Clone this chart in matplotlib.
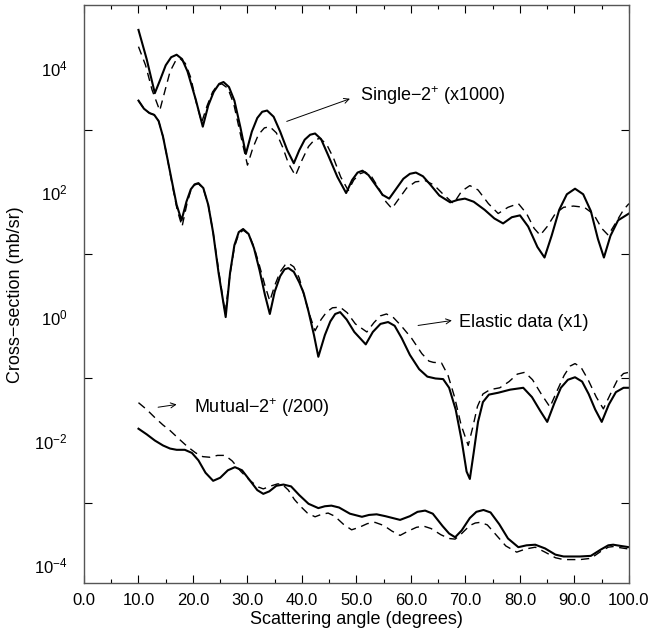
import numpy as np
import matplotlib
matplotlib.use("Agg")
import matplotlib.pyplot as plt
from matplotlib.ticker import FixedLocator, FixedFormatter

plt.rcParams["font.family"] = ["Liberation Sans", "DejaVu Sans"]
plt.rcParams["mathtext.fontset"] = "custom"
plt.rcParams["mathtext.rm"] = "Liberation Sans"
plt.rcParams["mathtext.it"] = "Liberation Sans:italic"

# ---------------------------------------------------------------
# Data: angle (deg) and log10 of cross-section
# ---------------------------------------------------------------
single_calc_x = [10, 11.5, 13.0, 14.0, 15.0, 16.0, 17.0, 18.0, 19.0, 20.5, 21.8,
                 22.8, 23.8, 24.8, 25.6, 26.6, 27.6, 28.7, 29.7, 30.8, 31.8, 32.7,
                 33.6, 34.8, 36.0, 37.3, 38.5, 39.5, 40.5, 41.5, 42.4, 43.5, 44.8,
                 46.5, 48.1, 49.2, 50.2, 51.1, 52.2, 53.5, 54.8, 56.0, 57.3, 58.6,
                 59.8, 60.9, 62.2, 63.6, 65.2, 67.2, 68.6, 69.9, 71.5, 73.5, 75.3,
                 76.9, 78.5, 80.0, 81.5, 83.2, 84.5, 85.8, 87.2, 88.6, 90.1, 91.6,
                 93.0, 94.3, 95.4, 96.6, 98.0, 100]
single_calc_log = [4.62, 4.15, 3.60, 3.82, 4.05, 4.18, 4.22, 4.15, 3.95, 3.50, 3.06,
                   3.40, 3.62, 3.75, 3.78, 3.70, 3.48, 3.05, 2.62, 2.98, 3.20, 3.30,
                   3.32, 3.22, 2.98, 2.68, 2.47, 2.68, 2.85, 2.93, 2.95, 2.86, 2.60,
                   2.25, 1.99, 2.20, 2.32, 2.35, 2.28, 2.12, 1.96, 1.90, 2.06, 2.22,
                   2.30, 2.32, 2.26, 2.12, 1.95, 1.84, 1.88, 1.90, 1.85, 1.72, 1.58,
                   1.50, 1.60, 1.63, 1.45, 1.12, 0.95, 1.30, 1.72, 1.97, 2.06, 1.97,
                   1.70, 1.25, 0.95, 1.30, 1.55, 1.66]

single_alt_x = [10, 11.3, 12.5, 13.9, 14.8, 15.8, 16.8, 17.6, 18.6, 19.6, 20.6, 21.6,
                22.6, 23.6, 24.5, 25.3, 26.4, 27.5, 28.8, 30.0, 31.0, 32.0, 33.1,
                34.1, 35.3, 36.5, 37.5, 38.8, 40.0, 41.2, 42.3, 43.3, 44.5, 45.8,
                47.1, 48.5, 49.5, 50.6, 51.6, 52.8, 54.2, 55.4, 56.5, 57.8, 59.2,
                60.8, 62.6, 64.2, 65.8, 67.8, 69.3, 70.8, 72.3, 74.2, 76.0, 77.8,
                79.7, 81.2, 82.6, 83.7, 85.0, 86.5, 88.0, 89.8, 91.8, 93.5, 95.0,
                96.2, 97.5, 99.0, 100]
single_alt_log = [4.35, 4.05, 3.65, 3.32, 3.62, 3.95, 4.12, 4.16, 4.08, 3.85, 3.45,
                  3.13, 3.40, 3.62, 3.73, 3.75, 3.68, 3.42, 2.90, 2.44, 2.72, 2.93,
                  3.04, 3.06, 2.96, 2.72, 2.47, 2.27, 2.52, 2.74, 2.85, 2.87, 2.78,
                  2.55, 2.25, 2.03, 2.20, 2.30, 2.33, 2.25, 2.05, 1.85, 1.74, 1.90,
                  2.07, 2.17, 2.19, 2.12, 1.98, 1.82, 2.02, 2.11, 2.04, 1.82, 1.66,
                  1.76, 1.82, 1.66, 1.42, 1.31, 1.45, 1.66, 1.76, 1.78, 1.76, 1.65,
                  1.42, 1.31, 1.50, 1.72, 1.82]

elastic_calc_x = [10, 11.0, 12.0, 12.9, 13.7, 14.5, 15.3, 16.2, 17.0, 17.9, 18.8,
                  19.6, 20.3, 21.0, 21.9, 22.8, 23.7, 24.7, 26.0, 26.8, 27.6, 28.4,
                  29.2, 30.2, 31.2, 32.2, 33.2, 34.1, 35.0, 36.0, 36.8, 37.5, 38.5,
                  39.5, 40.3, 41.2, 42.2, 43.0, 44.2, 45.2, 46.1, 47.0, 48.2, 49.6,
                  51.7, 53.0, 54.4, 55.8, 57.0, 58.3, 59.8, 61.5, 63.0, 64.5, 65.9,
                  67.0, 68.2, 69.3, 70.2, 70.8, 71.5, 72.3, 73.2, 74.3, 76.0, 78.2,
                  80.6, 82.2, 83.7, 85.0, 86.3, 87.5, 88.8, 90.1, 91.4, 92.6, 93.8,
                  95.0, 96.3, 97.6, 99.0, 100]
elastic_calc_log = [3.48, 3.35, 3.28, 3.25, 3.15, 2.90, 2.55, 2.15, 1.80, 1.55, 1.85,
                    2.05, 2.13, 2.15, 2.07, 1.80, 1.35, 0.70, -0.01, 0.70, 1.15, 1.36,
                    1.41, 1.33, 1.10, 0.75, 0.35, 0.04, 0.40, 0.65, 0.76, 0.78, 0.72,
                    0.55, 0.38, 0.08, -0.30, -0.65, -0.30, -0.08, 0.04, 0.07, -0.05,
                    -0.25, -0.45, -0.25, -0.12, -0.09, -0.15, -0.35, -0.62, -0.85,
                    -0.97, -1.00, -1.01, -1.15, -1.50, -2.00, -2.50, -2.62, -2.20,
                    -1.70, -1.38, -1.26, -1.23, -1.18, -1.15, -1.30, -1.52, -1.70,
                    -1.40, -1.15, -1.02, -0.98, -1.05, -1.25, -1.50, -1.70, -1.42,
                    -1.22, -1.15, -1.15]

elastic_alt_x = [10, 11.0, 12.0, 12.9, 13.7, 14.5, 15.3, 16.2, 17.1, 18.0, 18.9,
                 19.6, 20.3, 21.0, 21.9, 22.8, 23.7, 24.7, 25.9, 26.8, 27.6, 28.4,
                 29.2, 30.2, 31.2, 32.2, 33.2, 34.1, 35.0, 36.0, 36.9, 37.5, 38.5,
                 39.5, 40.5, 41.5, 42.4, 43.5, 44.5, 45.6, 47.0, 48.3, 49.8, 51.9,
                 53.2, 54.4, 55.5, 56.8, 58.2, 60.1, 62.0, 63.3, 64.1, 65.6, 66.8,
                 68.0, 69.2, 70.5, 71.3, 72.2, 73.2, 74.5, 76.3, 78.0, 79.5, 80.9,
                 82.3, 83.9, 85.5, 86.8, 88.1, 89.2, 90.1, 91.2, 92.5, 94.0, 95.3,
                 96.6, 97.9, 99.0, 100]
elastic_alt_log = [3.48, 3.35, 3.28, 3.25, 3.15, 2.90, 2.55, 2.12, 1.72, 1.45, 1.82,
                   2.03, 2.12, 2.14, 2.06, 1.80, 1.35, 0.75, 0.05, 0.68, 1.12, 1.33,
                   1.39, 1.33, 1.12, 0.82, 0.50, 0.25, 0.50, 0.72, 0.83, 0.86, 0.80,
                   0.62, 0.30, 0.00, -0.23, -0.05, 0.07, 0.14, 0.15, 0.06, -0.12,
                   -0.25, -0.10, 0.01, 0.04, -0.02, -0.15, -0.35, -0.60, -0.72, -0.74,
                   -0.75, -0.95, -1.30, -1.75, -2.08, -1.80, -1.45, -1.25, -1.18,
                   -1.15, -1.05, -0.93, -0.90, -1.02, -1.25, -1.46, -1.20, -0.95,
                   -0.80, -0.76, -0.82, -1.02, -1.30, -1.49, -1.25, -1.02, -0.92, -0.90]

mutual_calc_x = [10, 11.5, 13.0, 14.5, 15.8, 17.0, 18.5, 19.8, 21.0, 22.3, 23.7, 25.0,
                 26.4, 27.7, 29.0, 30.5, 31.8, 32.9, 34.0, 35.3, 36.6, 38.0, 39.5,
                 41.2, 43.0, 44.2, 45.4, 46.8, 48.8, 51.0, 52.3, 53.7, 55.3, 58.0,
                 59.8, 61.2, 62.6, 64.0, 65.8, 67.0, 68.1, 69.3, 70.8, 72.0, 73.3,
                 74.6, 76.2, 77.8, 79.7, 81.2, 82.8, 84.6, 86.5, 88.0, 91.0, 93.0,
                 94.8, 96.2, 97.1, 98.5, 100]
mutual_calc_log = [-1.81, -1.90, -2.00, -2.08, -2.13, -2.15, -2.15, -2.20, -2.32,
                   -2.52, -2.65, -2.60, -2.48, -2.43, -2.48, -2.65, -2.80, -2.86,
                   -2.82, -2.73, -2.71, -2.74, -2.88, -3.02, -3.09, -3.06, -3.05,
                   -3.08, -3.18, -3.23, -3.20, -3.19, -3.22, -3.28, -3.22, -3.15,
                   -3.13, -3.18, -3.38, -3.50, -3.56, -3.45, -3.25, -3.15, -3.12,
                   -3.16, -3.35, -3.58, -3.72, -3.69, -3.68, -3.74, -3.84, -3.87,
                   -3.87, -3.86, -3.76, -3.69, -3.68, -3.70, -3.72]

mutual_alt_x = [10, 11.5, 13.0, 14.5, 15.8, 17.5, 19.0, 20.5, 21.8, 23.1, 24.5, 25.9,
                27.2, 28.8, 30.5, 32.0, 32.9, 34.4, 35.5, 36.3, 37.5, 38.6, 39.6,
                41.0, 42.4, 43.6, 44.8, 46.0, 47.6, 49.1, 50.5, 52.0, 53.4, 55.0,
                56.5, 58.0, 59.5, 61.0, 62.3, 63.7, 65.5, 67.0, 68.1, 69.3, 70.8,
                71.8, 72.7, 74.0, 75.6, 77.4, 79.4, 81.0, 82.8, 84.6, 86.5, 88.0,
                91.0, 93.0, 94.8, 96.2, 97.1, 98.5, 100]
mutual_alt_log = [-1.39, -1.50, -1.63, -1.75, -1.84, -1.98, -2.10, -2.20, -2.26,
                  -2.27, -2.24, -2.24, -2.33, -2.50, -2.65, -2.75, -2.78, -2.73,
                  -2.70, -2.70, -2.80, -2.95, -3.05, -3.17, -3.23, -3.19, -3.17,
                  -3.22, -3.35, -3.44, -3.40, -3.34, -3.32, -3.37, -3.46, -3.53,
                  -3.46, -3.40, -3.38, -3.42, -3.52, -3.58, -3.59, -3.50, -3.37,
                  -3.33, -3.32, -3.36, -3.52, -3.70, -3.80, -3.75, -3.72, -3.80,
                  -3.89, -3.92, -3.92, -3.90, -3.79, -3.72, -3.71, -3.73, -3.75]

x_ticks = [0, 10, 20, 30, 40, 50, 60, 70, 80, 90, 100]
x_tick_labels = ["0.0", "10.0", "20.0", "30.0", "40.0", "50.0", "60.0",
                 "70.0", "80.0", "90.0", "100.0"]
y_label_exps = [-4, -2, 0, 2, 4]
y_tick_exps = [-3, -1, 1, 3]

# ---------------------------------------------------------------
# Plot
# ---------------------------------------------------------------
fig = plt.figure(figsize=(6.52, 6.37), dpi=100)
ax = fig.add_axes([0.1288, 0.0840, 0.8359, 0.9081])

solid_kw = dict(color="black", lw=1.5, solid_joinstyle="round")
dash_kw = dict(color="black", lw=1.0, dashes=(6, 4))

for xs, lg in [(single_calc_x, single_calc_log), (elastic_calc_x, elastic_calc_log),
               (mutual_calc_x, mutual_calc_log)]:
    ax.plot(xs, 10.0 ** np.array(lg), **solid_kw)
for xs, lg in [(single_alt_x, single_alt_log), (elastic_alt_x, elastic_alt_log),
               (mutual_alt_x, mutual_alt_log)]:
    ax.plot(xs, 10.0 ** np.array(lg), **dash_kw)

ax.set_yscale("log")
ax.set_xlim(0, 100)
ax.set_ylim(4.95e-5, 1.05e5)

# x ticks: majors every 10, minors every 5, inward on both sides
ax.set_xticks(x_ticks)
ax.set_xticklabels(x_tick_labels)
ax.xaxis.set_minor_locator(FixedLocator(np.arange(5, 100, 10)))
ax.tick_params(axis="x", which="major", direction="in", length=6, width=0.8,
               top=True, labelsize=12, pad=7)
ax.tick_params(axis="x", which="minor", direction="in", length=3, width=0.8, top=True)

# y ticks: labels at even decades (no mark), marks at odd decades
ax.yaxis.set_major_locator(FixedLocator([10.0 ** e for e in y_label_exps]))
ax.yaxis.set_major_formatter(FixedFormatter(
    [r"$10^{%s}$" % (str(e) if e >= 0 else "\u2212" + str(-e)) for e in y_label_exps]))
ax.yaxis.set_minor_locator(FixedLocator([10.0 ** e for e in y_tick_exps]))
ax.yaxis.set_minor_formatter(FixedFormatter([""] * len(y_tick_exps)))
ax.tick_params(axis="y", which="major", length=0, labelsize=12, pad=12)
ax.tick_params(axis="y", which="minor", direction="in", length=6, width=0.8, right=True)

for sp in ax.spines.values():
    sp.set_color("#555555")
    sp.set_linewidth(1.0)

ax.set_xlabel("Scattering angle (degrees)", fontsize=13, labelpad=2)
ax.set_ylabel("Cross\u2212section (mb/sr)", fontsize=13, labelpad=7)

# annotations
arrow_kw = dict(arrowstyle="->", lw=0.7, color="black", shrinkA=0, shrinkB=0,
                mutation_scale=9)
ax.annotate("", xy=(48.8, 3236), xytext=(37.2, 1396), arrowprops=arrow_kw)
ax.text(50.6, 3673, "Single\u22122$^{+}$ (x1000)", fontsize=13, va="center")
ax.annotate("", xy=(67.5, 0.861), xytext=(61.3, 0.716), arrowprops=arrow_kw)
ax.text(68.9, 0.809, "Elastic data (x1)", fontsize=13, va="center")
ax.annotate("", xy=(17.0, 0.0381), xytext=(13.6, 0.0344), arrowprops=arrow_kw)
ax.text(20.1, 0.0344, "Mutual\u22122$^{+}$ (/200)", fontsize=13, va="center")

plt.savefig("out.png", dpi=100)
plt.close()
